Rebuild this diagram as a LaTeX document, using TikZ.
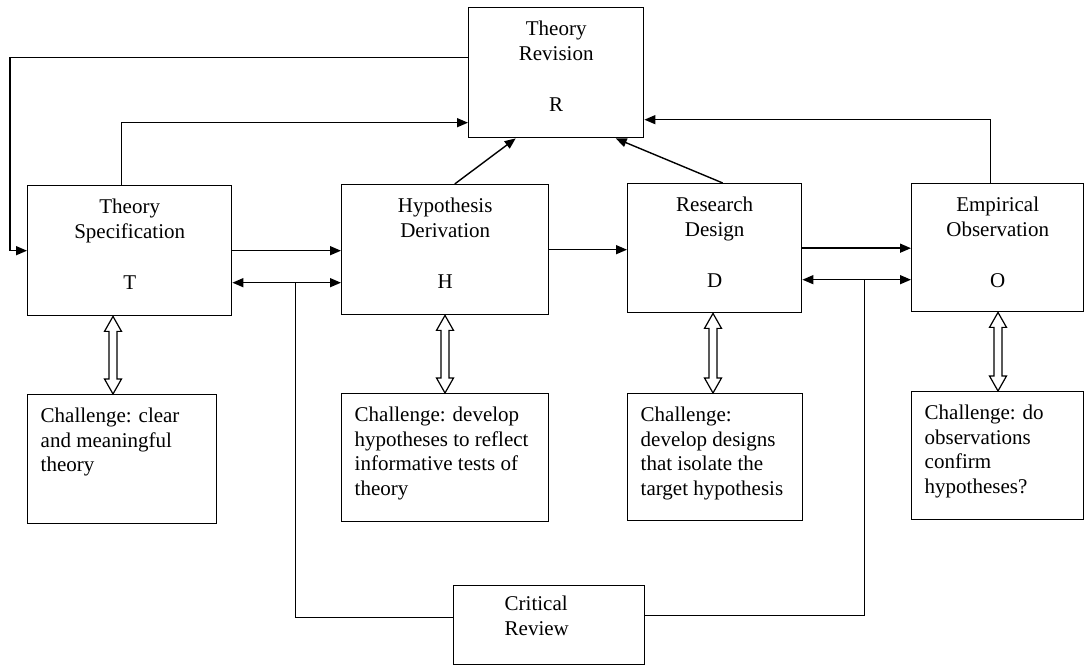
\documentclass[tikz,border=0pt]{standalone}
\usepackage{fontspec}
\setmainfont{Liberation Serif}
\usetikzlibrary{arrows.meta,calc}
\newcommand\bxt[3]{\parbox[t][\dimexpr#2pt-22pt\relax][t]{\dimexpr#1pt-26pt\relax}{#3}}
\newcommand\hollowarr[3]{%
  \draw[hollow] let \p1=(#2.south), \p2=(#3.north) in
    (#1pt,\y1) -- (#1pt+8.5pt,\y1-15pt) -- (#1pt+4pt,\y1-15pt) -- (#1pt+4pt,\y2+15pt)
    -- (#1pt+8.5pt,\y2+15pt) -- (#1pt,\y2) -- (#1pt-8.5pt,\y2+15pt) -- (#1pt-4pt,\y2+15pt)
    -- (#1pt-4pt,\y1-15pt) -- (#1pt-8.5pt,\y1-15pt) -- cycle;}
\tikzset{
  box/.style={draw, line width=1.4pt, anchor=north west, inner xsep=13pt, inner ysep=11pt,
    font=\fontsize{21}{24.5}\selectfont},
  arr/.style={line width=1.4pt, -{Triangle[length=11pt,width=9pt]}},
  dbl/.style={line width=1.4pt, {Triangle[length=11pt,width=9pt]}-{Triangle[length=11pt,width=9pt]}},
  ln/.style={line width=1.4pt},
  hollow/.style={draw, line width=1.2pt, fill=white, line join=miter},
}
\begin{document}
\begin{tikzpicture}[x=1pt,y=1pt]
\useasboundingbox (0,0) rectangle (1085,666);
% main boxes
\node[box] (R) at (468,659) {\bxt{175}{130}{\centering\strut Theory\\Revision\\[27pt]R}};
\node[box] (T) at (27,481) {\bxt{204}{130}{\centering\strut Theory\\Specification\\[27pt]T}};
\node[box] (H) at (341,482) {\bxt{207}{130}{\centering\strut Hypothesis\\Derivation\\[27pt]H}};
\node[box] (D) at (627,483) {\bxt{174}{129}{\centering\strut Research\\Design\\[27pt]D}};
\node[box] (O) at (911,483) {\bxt{172}{128}{\centering\strut Empirical\\Observation\\[27pt]O}};
% challenge boxes
\node[box] (CT) at (27,272) {\bxt{189}{129}{\raggedright\strut Challenge: clear\\and meaningful\\theory}};
\node[box] (CH) at (341,273) {\bxt{207}{128}{\raggedright\strut Challenge: develop\\hypotheses to reflect\\informative tests of\\theory}};
\node[box] (CD) at (627,273) {\bxt{175}{127}{\raggedright\strut Challenge:\\develop designs\\that isolate the\\target hypothesis}};
\node[box] (CO) at (911,275) {\bxt{172}{128}{\raggedright\strut Challenge: do\\observations\\confirm\\hypotheses?}};
\node[box, inner ysep=8pt] (CR) at (453,81) {\parbox[t][63pt][t]{165pt}{\leftskip=38pt\strut Critical\\Review}};
% connectors to R
\draw[arr] ([yshift=15pt]R.west) -| ([xshift=-17pt]T.west) -- (T.west);
\draw[arr] ([xshift=-8pt]T.north) |- ([yshift=-50pt]R.west);
\draw[arr] ([xshift=-7.5pt]O.north) |- ([yshift=-47pt]R.east);
\draw[arr] ([xshift=9.5pt]H.north) -- ([xshift=-40.5pt]R.south);
\draw[arr] ([xshift=8pt]D.north) -- ([xshift=59.5pt]R.south);
% horizontal flow
\draw[arr] (T.east) -- (T.east -| H.west);
\coordinate (th) at ([yshift=-32pt]T.east);
\draw[dbl] (th) -- (th -| H.west);
\draw[arr] (H.east) -- (H.east -| D.west);
\draw[arr] (D.east) -- (D.east -| O.west);
\coordinate (do) at ([yshift=-31.5pt]D.east);
\draw[dbl] (do) -- (do -| O.west);
% critical review links
\coordinate (j1) at ([xshift=63pt]th);
\draw[ln] (j1) |- ([yshift=7.5pt]CR.west);
\coordinate (j2) at ([xshift=62pt]do);
\draw[ln] (j2) |- ([yshift=9.5pt]CR.east);
% hollow double arrows
\hollowarr{113}{T}{CT}
\hollowarr{445}{H}{CH}
\hollowarr{713}{D}{CD}
\hollowarr{998}{O}{CO}
\end{tikzpicture}
\end{document}
